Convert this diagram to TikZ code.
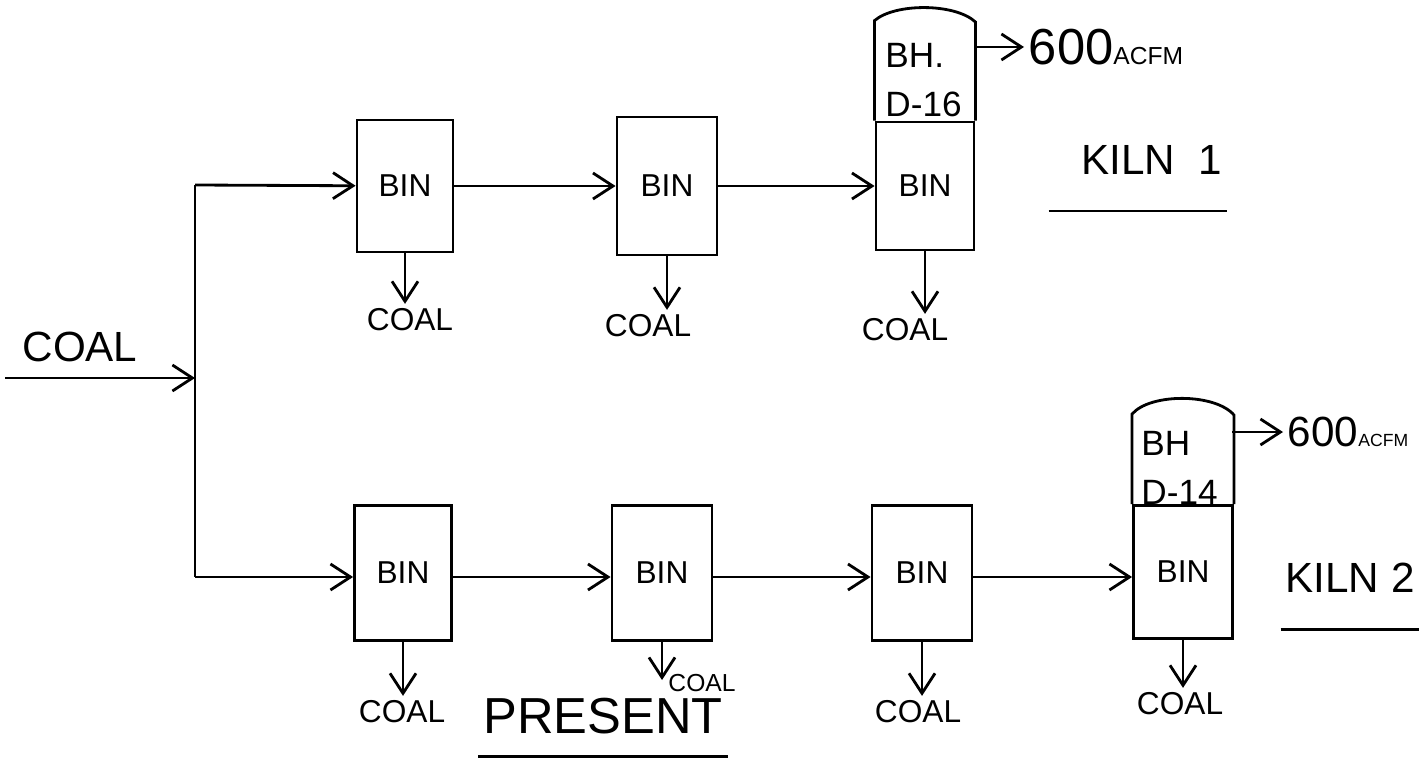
\documentclass[tikz,border=0pt]{standalone}
\usepackage{fontspec}
\setmainfont{Liberation Sans}
\usetikzlibrary{arrows.meta, positioning}

\begin{document}
\begin{tikzpicture}[
                x=0.01cm, y=-0.01cm,
                line width=0.8pt,
                bin/.style={draw, minimum width=0.98cm, minimum height=1.35cm, inner sep=0pt, font=\small},
                coal/.style={font=\small, inner sep=1pt},
                big/.style={font=\Large, inner sep=1pt},
                bhtext/.style={font=\normalsize, inner sep=0pt, align=left, anchor=west},
                >={Straight Barb[length=2mm, width=2.6mm]}
            ]
            \useasboundingbox (0,0) rectangle (1422,767);
            % feed line
            \node[font=\large, inner sep=1pt] (coalin) at (80,347) {COAL};
            \coordinate (src) at (5,378);
            \coordinate (jin) at (195,378);
            \coordinate (j1) at (195,185);
            \coordinate (j2) at (195,577);
            \draw (j1) -- (j2);
            \draw[->] (src) -- (jin);
            % kiln 1 line
            \node[bin, minimum width=0.96cm, minimum height=1.32cm] (b1) at (405,186) {BIN};
            \node[bin, minimum width=1.0cm, minimum height=1.38cm] (b2) at (667,186) {BIN};
            \node[bin, minimum width=0.98cm, minimum height=1.28cm] (b3) at (925,186) {BIN};
            \draw (b3.north west) -- ++(0,-100) .. controls (895,3) and (955,3) .. (b3.north east |- 0,22) -- (b3.north east);
            \node[bhtext] (bh1) at (884,80) {BH.\\[2pt]D-16};
            \coordinate (bh1e) at (975,47);
            \coordinate (o1) at (1024,47);
            \draw[->] (bh1e) -- (o1);
            \node[inner sep=1pt, anchor=west] (acfm1) at (o1) {{\Large 600}{\scriptsize ACFM}};
            \draw[->] (j1) -- (b1);
            \draw[->] (b1) -- (b2);
            \draw[->] (b2) -- (b3);
            \node[coal] (c1) at (410,320) {COAL};
            \node[coal] (c2) at (648,326) {COAL};
            \node[coal] (c3) at (905,330) {COAL};
            \draw[->] (b1.south) -- (b1.south |- c1.north);
            \draw[->] (b2.south) -- (b2.south |- c2.north);
            \draw[->] (b3.south) -- (b3.south |- c3.north);
            \node[font=\large, inner sep=1pt] (k1) at (1152,160) {KILN\ \ 1};
            \draw ([xshift=-8pt, yshift=-9pt]k1.south west) -- ([yshift=-9pt]k1.south east);
            % kiln 2 line
            \node[bin, minimum width=0.97cm] (b4) at (403,573) {BIN};
            \node[bin, minimum width=1.0cm] (b5) at (662,573) {BIN};
            \node[bin, minimum width=1.0cm] (b6) at (922,573) {BIN};
            \node[bin, minimum width=0.99cm, minimum height=1.33cm] (b7) at (1183,572) {BIN};
            \draw (b7.north west) -- ++(0,-90) .. controls (1150,393) and (1215,393) .. (b7.north east |- 0,415) -- (b7.north east);
            \node[bhtext] (bh2) at (1140,468) {BH\\[2pt]D-14};
            \coordinate (bh2e) at (1232,432);
            \coordinate (o2) at (1283,432);
            \draw[->] (bh2e) -- (o2);
            \node[inner sep=1pt, anchor=west] (acfm2) at (o2) {{\large 600}{\tiny ACFM}};
            \draw[->] (j2) -- (j2 -| b4.west);
            \draw[->] (j2 -| b4.east) -- (j2 -| b5.west);
            \draw[->] (j2 -| b5.east) -- (j2 -| b6.west);
            \draw[->] (j2 -| b6.east) -- (j2 -| b7.west);
            \node[coal] (c4) at (402,712) {COAL};
            \node[coal, font=\scriptsize] (c5) at (702,683) {COAL};
            \node[coal] (c6) at (918,712) {COAL};
            \node[coal] (c7) at (1180,704) {COAL};
            \draw[->] (b4.south) -- (b4.south |- c4.north);
            \draw[->] (b5.south) -- (b5.south |- 0,680);
            \draw[->] (b6.south) -- (b6.south |- c6.north);
            \draw[->] (b7.south) -- (b7.south |- c7.north);
            \node[font=\large, inner sep=1pt] (k2) at (1350,578) {KILN 2};
            \draw ([yshift=-9pt]k2.south west) -- ([yshift=-9pt]k2.south east);
            \node[big] (present) at (603,716) {PRESENT};
            \draw ([yshift=-5pt]present.south west) -- ([yshift=-5pt]present.south east);
        \end{tikzpicture}
\end{document}
